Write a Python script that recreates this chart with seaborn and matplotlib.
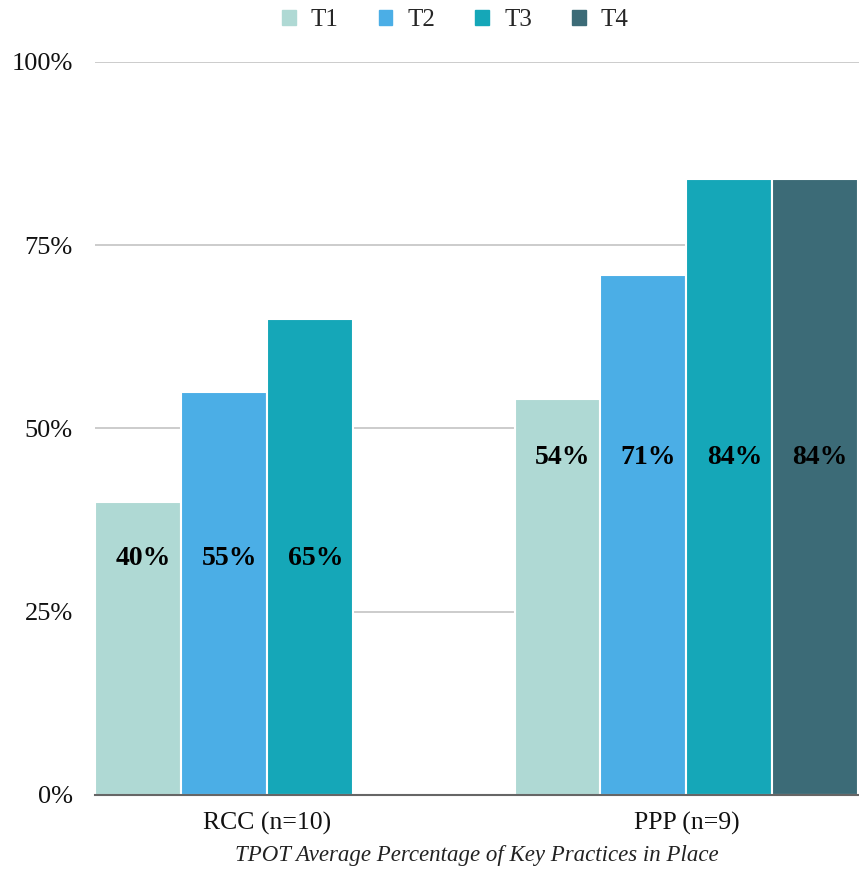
import numpy as np
import pandas as pd
import seaborn as sns
import matplotlib.pyplot as plt

sns.set_style('white')
plt.rcParams['font.family'] = ['Liberation Serif', 'DejaVu Serif']

groups  = ['RCC (n=10)', 'PPP (n=9)']
periods = ['T1', 'T2', 'T3', 'T4']
rcc     = [40, 55, 65, np.nan]
ppp     = [54, 71, 84, 84]
colors  = ['#afd9d4', '#4baee6', '#15a7b8', '#3c6b77']
ticks   = [0, 25, 50, 75, 100]

rows = []
for g, vals in zip(groups, [rcc, ppp]):
    for p, v in zip(periods, vals):
        rows.append({'group': g, 'period': p, 'value': v})
df = pd.DataFrame(rows)

fig = plt.figure(figsize=(8.59, 8.69), dpi=100)
ax = fig.add_axes([0.1106, 0.0852, 0.889, 0.8435])

sns.barplot(data=df, x='group', y='value', hue='period', order=groups,
            hue_order=periods, palette=colors, width=0.82,
            edgecolor='white', linewidth=1.5, saturation=1, ax=ax)

ax.set_xlim(-0.411, 1.411)
ax.set_ylim(0, 100)
ax.set_yticks(ticks)
ax.set_yticklabels([f'{t}%' for t in ticks])
ax.yaxis.grid(True, color='#c4c4c4', linewidth=1.2)
ax.set_axisbelow(True)
for s in ['top', 'right', 'left']:
    ax.spines[s].set_visible(False)
ax.spines['bottom'].set_color('#666666')
ax.spines['bottom'].set_linewidth(1.5)
ax.spines['bottom'].set_zorder(5)
ax.tick_params(axis='both', length=0, labelsize=19, colors='#111111')
ax.tick_params(axis='x', labelsize=18.5, pad=12)
ax.tick_params(axis='y', pad=16)

# value labels sit at a fixed height inside each group
label_y = [32.2, 46.0]
for cont in ax.containers:
    for bar in cont:
        h = bar.get_height()
        if np.isnan(h) or h == 0:
            continue
        gi = int(round(bar.get_x() + bar.get_width() / 2))
        ax.text(bar.get_x() + bar.get_width() / 2 + 0.012, label_y[gi], f'{h:.0f}%',
                ha='center', va='center', fontsize=20, fontweight='bold', color='black')

ax.set_xlabel('TPOT Average Percentage of Key Practices in Place',
              fontsize=16.5, style='italic', color='#222222')
ax.xaxis.label.set_va('center')
ax.xaxis.set_label_coords(0.5, -0.083)
ax.set_ylabel('')

ax.legend_.remove()
handles = [plt.Rectangle((0, 0), 1, 1, color=c) for c in colors]
fig.legend(handles, periods, loc='upper center', bbox_to_anchor=(0.53, 1.015),
           ncol=4, frameon=False, fontsize=18, handlelength=0.55, handleheight=0.55,
           handletextpad=0.6, columnspacing=1.6)

fig.savefig('out.png', dpi=100)
